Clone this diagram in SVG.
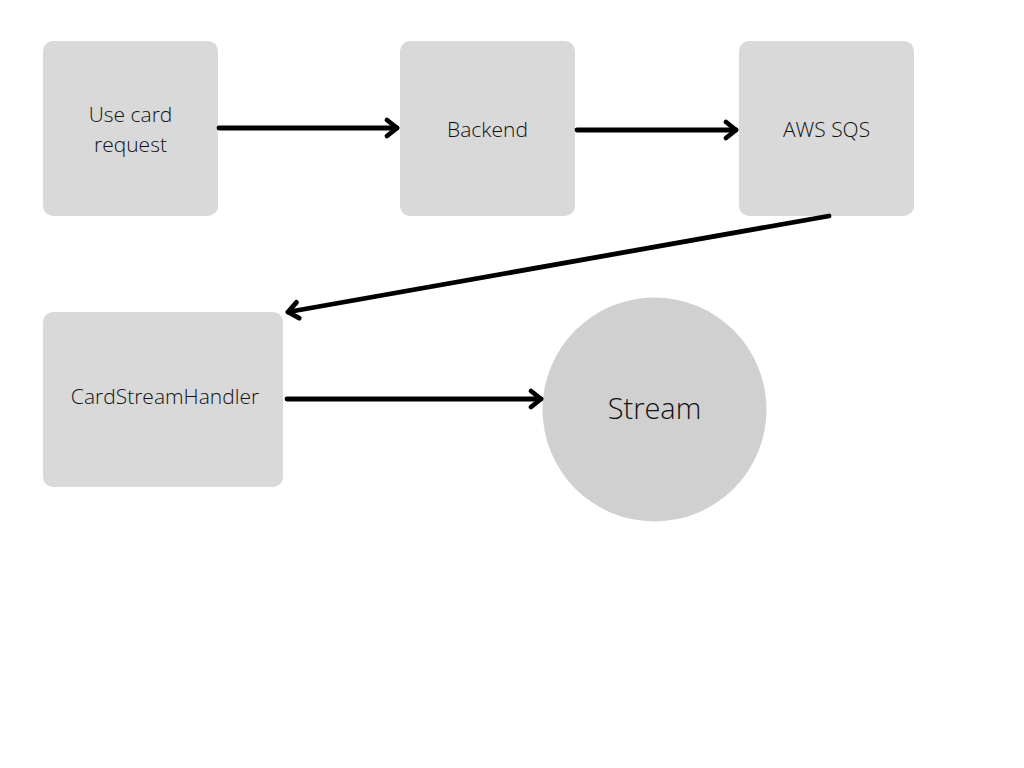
<svg xmlns="http://www.w3.org/2000/svg" width="1024" height="768" viewBox="0 0 1024 768">
<defs>
<style>
.box{fill:#d9d9d9}
.circ{fill:#d0d0d0}
.lbl{font-family:"Open Sans","Liberation Sans",sans-serif;font-weight:300;font-size:21px;fill:#111;text-anchor:middle}
.big{font-size:29px}
.conn{stroke:#000;stroke-width:4.8;fill:none;stroke-linecap:round}
</style>
<marker id="arr" markerUnits="userSpaceOnUse" markerWidth="30" markerHeight="30" viewBox="-15 -15 30 30" refX="0" refY="0" orient="auto">
<path d="M-10,-8 L0,0 L-10,8" fill="none" stroke="#000" stroke-width="4.8" stroke-linecap="round" stroke-linejoin="round"/>
</marker>
</defs>
<rect width="1024" height="768" fill="#fff"/>
<g id="node-usecard"><rect class="box" x="43" y="41" width="175" height="175" rx="10"/><text class="lbl" x="130.5" y="122">Use card</text><text class="lbl" x="130.5" y="152">request</text></g>
<g id="node-backend"><rect class="box" x="400" y="41" width="175" height="175" rx="10"/><text class="lbl" x="487.5" y="137">Backend</text></g>
<g id="node-sqs"><rect class="box" x="739" y="41" width="175" height="175" rx="10"/><text class="lbl" x="826.5" y="137">AWS SQS</text></g>
<g id="node-handler"><rect class="box" x="43" y="312" width="240" height="175" rx="10"/><text class="lbl" x="165" y="404">CardStreamHandler</text></g>
<g id="node-stream"><circle class="circ" cx="654.5" cy="409.5" r="112"/><text class="lbl big" x="654.5" y="419">Stream</text></g>
<g id="connectors">
<line class="conn" x1="219" y1="128" x2="397" y2="128" marker-end="url(#arr)"/>
<line class="conn" x1="577" y1="130" x2="736" y2="130" marker-end="url(#arr)"/>
<line class="conn" x1="829" y1="216" x2="288" y2="312" marker-end="url(#arr)"/>
<line class="conn" x1="287" y1="399" x2="541" y2="399" marker-end="url(#arr)"/>
</g>
</svg>
